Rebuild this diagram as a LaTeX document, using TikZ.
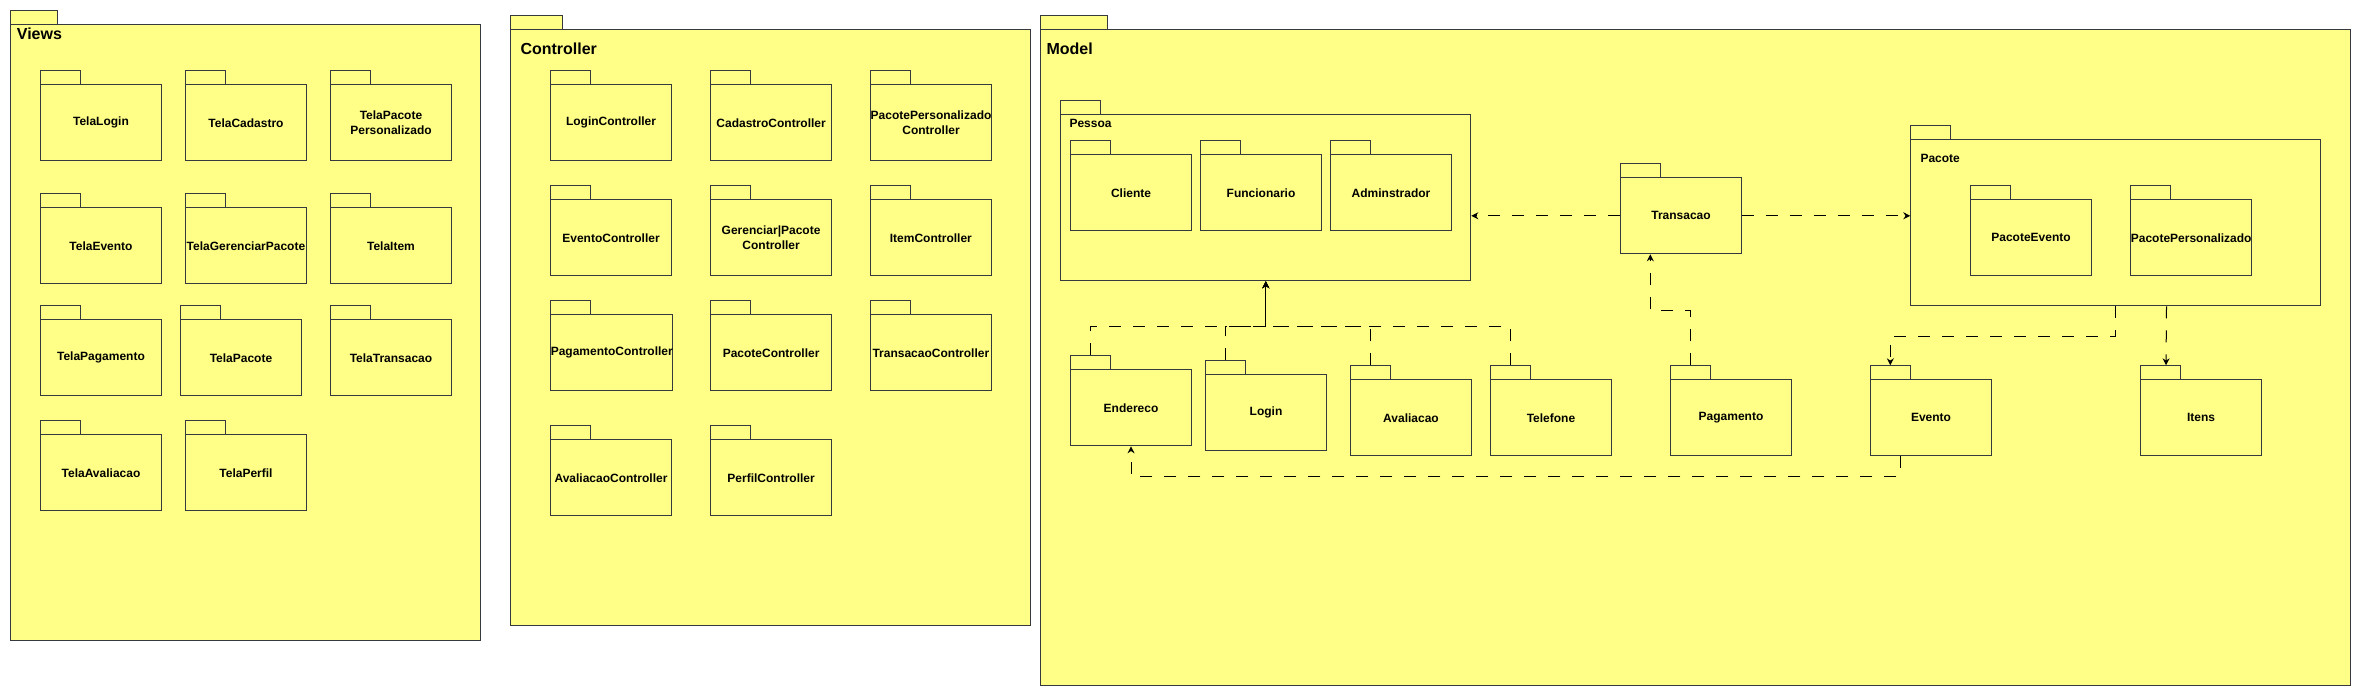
\documentclass[tikz,border=0pt]{standalone}
\usepackage{fontspec}
\setmainfont{Liberation Sans}
\usetikzlibrary{arrows.meta}

\definecolor{pkgfill}{HTML}{FFFF88}
\definecolor{pkgline}{HTML}{36393D}

\tikzset{
  pkg/.style={draw=pkgline, fill=pkgfill, line width=1pt, anchor=north west,
    inner sep=0pt, align=center, minimum width=120.4pt, minimum height=76pt,
    font=\bfseries\fontsize{12}{15}\selectfont},
  pkgtab/.style={draw=pkgline, fill=pkgfill, line width=1pt},
  frametitle/.style={anchor=north west, inner sep=0pt,
    font=\bfseries\fontsize{16}{19}\selectfont},
  subtitle/.style={anchor=north west, inner sep=0pt,
    font=\bfseries\fontsize{12}{15}\selectfont},
  dep/.style={draw=black, line width=1pt, dash pattern=on 12pt off 12pt,
    -{Stealth[length=7pt,width=7pt]}},
}

\begin{document}
\begin{tikzpicture}[x=1pt, y=-1pt]
    \useasboundingbox (0,0) rectangle (2361,696);

    % Views
    \node[pkg, minimum width=470pt, minimum height=615.7pt] (views) at (10.3,24.3) {};
    \draw[pkgtab] (views.north west) rectangle ++(47,-14);
    \node[frametitle] (viewstitle) at (16.7,27.5) {Views};

    \node[pkg] (tlogin) at (40.3,84.3) {TelaLogin};
    \node[pkg] (tcadastro) at (185.3,84.3) {TelaCadastro};
    \node[pkg] (tpersonalizado) at (330.3,84.3) {TelaPacote\\Personalizado};
    \node[pkg] (tevento) at (40.3,207.3) {TelaEvento};
    \node[pkg] (tgerenciar) at (185.3,207.3) {TelaGerenciarPacote};
    \node[pkg] (titem) at (330.3,207.3) {TelaItem};
    \node[pkg] (tpagamento) at (40.3,319.3) {TelaPagamento};
    \node[pkg] (tpacote) at (180.3,319.3) {TelaPacote};
    \node[pkg] (ttransacao) at (330.3,319.3) {TelaTransacao};
    \node[pkg] (tavaliacao) at (40.3,434.3) {TelaAvaliacao};
    \node[pkg] (tperfil) at (185.3,434.3) {TelaPerfil};

    % Controller
    \node[pkg, minimum width=520pt, minimum height=596pt] (controller) at (510.3,29.3) {};
    \draw[pkgtab] (controller.north west) rectangle ++(52.4,-14);
    \node[frametitle] (controllertitle) at (520.3,43) {Controller};

    \node[pkg] (clogin) at (550.3,84.3) {LoginController};
    \node[pkg] (ccadastro) at (710.4,84.3) {CadastroController};
    \node[pkg] (cpersonalizado) at (870.2,84.3) {PacotePersonalizado\\Controller};
    \node[pkg] (cevento) at (550.3,199.3) {EventoController};
    \node[pkg] (cgerenciar) at (710.4,199.3) {Gerenciar|Pacote\\Controller};
    \node[pkg] (citem) at (870.2,199.3) {ItemController};
    \node[pkg] (cpagamento) at (550.3,314.3) {PagamentoController};
    \node[pkg] (cpacote) at (710.4,314.3) {PacoteController};
    \node[pkg] (ctransacao) at (870.2,314.3) {TransacaoController};
    \node[pkg] (cavaliacao) at (550.3,439.3) {AvaliacaoController};
    \node[pkg] (cperfil) at (710.4,439.3) {PerfilController};

    % Model
    \node[pkg, minimum width=1310pt, minimum height=656pt] (model) at (1040.3,29.3) {};
    \draw[pkgtab] (model.north west) rectangle ++(67.4,-14);
    \node[frametitle] (modeltitle) at (1046.3,43) {Model};

    \node[pkg, minimum width=410pt, minimum height=166pt] (pessoa) at (1060.3,114.3) {};
    \node[subtitle] (pessoatitle) at (1069.3,119) {Pessoa};
    \node[pkg] (cliente) at (1070.3,154.3) {Cliente};
    \node[pkg] (funcionario) at (1200.3,154.3) {Funcionario};
    \node[pkg] (adminstrador) at (1330.3,154.3) {Adminstrador};

    \node[pkg] (transacao) at (1620.3,177.3) {Transacao};

    \node[pkg, minimum width=410pt, minimum height=166pt] (pacote) at (1910.3,139.3) {};
    \node[subtitle] (pacotetitle) at (1920.3,154) {Pacote};
    \node[pkg] (pacoteevento) at (1970.3,199.3) {PacoteEvento};
    \node[pkg] (pacotepers) at (2130.3,199.3) {PacotePersonalizado};

    \node[pkg] (endereco) at (1070.3,369.3) {Endereco};
    \node[pkg] (login) at (1205.3,374.3) {Login};
    \node[pkg] (avaliacao) at (1350.3,379.3) {Avaliacao};
    \node[pkg] (telefone) at (1490.3,379.3) {Telefone};
    \node[pkg] (pagamento) at (1670.3,379.3) {Pagamento};
    \node[pkg] (evento) at (1870.3,379.3) {Evento};
    \node[pkg] (itens) at (2140.3,379.3) {Itens};

    % package tabs
    \foreach \n in {tlogin,tcadastro,tpersonalizado,tevento,tgerenciar,titem,
                    tpagamento,tpacote,ttransacao,tavaliacao,tperfil,
                    clogin,ccadastro,cpersonalizado,cevento,cgerenciar,citem,
                    cpagamento,cpacote,ctransacao,cavaliacao,cperfil,
                    pessoa,cliente,funcionario,adminstrador,transacao,
                    pacote,pacoteevento,pacotepers,endereco,login,avaliacao,
                    telefone,pagamento,evento,itens}
        \draw[pkgtab] (\n.north west) rectangle ++(40,-14);

    % dependencies
    \draw[dep] ([shift={(20pt,14pt)}]endereco.north west) |- ([yshift=-45pt]pessoa.south) -- (pessoa.south);
    \draw[dep] ([shift={(20pt,14pt)}]login.north west) |- ([yshift=-45pt]pessoa.south) -- (pessoa.south);
    \draw[dep] ([shift={(20pt,14pt)}]avaliacao.north west) |- ([yshift=-45pt]pessoa.south) -- (pessoa.south);
    \draw[dep] ([shift={(20pt,14pt)}]telefone.north west) |- ([yshift=-45pt]pessoa.south) -- (pessoa.south);

    \draw[dep] (transacao.west) -- (transacao.west -| pessoa.east);
    \draw[dep] (transacao.east) -- (transacao.east -| pacote.west);
    \draw[dep] ([shift={(20pt,14pt)}]pagamento.north west) |- ([shift={(30pt,-56pt)}]transacao.south west) -- ([xshift=30pt]transacao.south west);

    \draw[dep] (pacote.south) -- ++(0,30) -| ([shift={(20pt,14pt)}]evento.north west);
    \draw[dep] ([xshift=50.7pt]pacote.south) -- ([shift={(25.7pt,14pt)}]itens.north west);
    \draw[dep] ([xshift=30pt]evento.south west) -- ++(0,20) -| (endereco.south);
\end{tikzpicture}
\end{document}
